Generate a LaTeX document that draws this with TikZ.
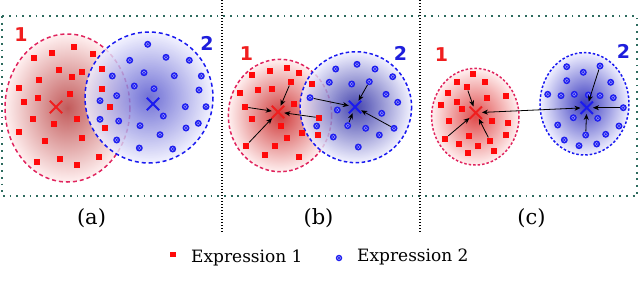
\documentclass[tikz,border=0pt]{standalone}
\usepackage{fontspec}
\setmainfont{DejaVu Serif}
\newfontfamily\numfont{DejaVu Sans}
\usetikzlibrary{shapes.misc,arrows.meta}

\definecolor{frameteal}{HTML}{2E6B5E}
\definecolor{ptred}{HTML}{FF0A0A}
\definecolor{ptblue}{HTML}{1E1EF0}
\definecolor{edgered}{HTML}{E0245E}
\definecolor{edgeblue}{HTML}{1A1AF0}
\definecolor{numred}{HTML}{F01E1E}
\definecolor{numblue}{HTML}{1E1EDC}
\definecolor{redA}{HTML}{C25A5A}
\definecolor{redB}{HTML}{D03A3A}
\definecolor{redC}{HTML}{E04A4A}
\definecolor{blueA}{HTML}{5050CC}
\definecolor{blueB}{HTML}{1C1C9C}
\definecolor{blueC}{HTML}{3A3AC0}

\tikzset{
 redsq/.style={rectangle, fill=ptred, inner sep=0pt, minimum size=6.2pt},
 bluedot/.style={circle, fill=ptblue, inner sep=0pt, minimum size=7pt,
   path picture={\draw[white!55!ptblue, line width=0.45pt] (path picture bounding box.center) circle (1.7pt);}},
 redx/.style={cross out, draw=numred, line width=1.9pt, inner sep=0pt, minimum size=10.5pt},
 bluex/.style={cross out, draw=edgeblue, line width=1.9pt, inner sep=0pt, minimum size=10.5pt},
 pull/.style={-{Stealth[length=6pt,width=5pt,inset=1.8pt]}, line width=0.8pt, draw=black},
 rededge/.style={draw=edgered, line width=1.5pt, dash pattern=on 4pt off 3pt},
 blueedge/.style={draw=edgeblue, line width=1.5pt, dash pattern=on 4pt off 3pt},
 tealframe/.style={draw=frameteal, line width=1.8pt, dash pattern=on 1.8pt off 4.9pt},
 divider/.style={draw=black, line width=1.6pt, dash pattern=on 1.4pt off 1.6pt},
 numlab/.style={font=\numfont\bfseries\fontsize{19}{19}\selectfont, inner sep=0pt},
 panellab/.style={font=\fontsize{21}{21}\selectfont, inner sep=0pt},
 legtext/.style={font=\fontsize{17}{17}\selectfont, inner sep=0pt, anchor=base west},
}

\begin{document}
\begin{tikzpicture}[x=1pt,y=-1pt]
\useasboundingbox (0,0) rectangle (640,298);

% ---------- panel frames ----------
\draw[tealframe] (2,16) rectangle (637,196);
\draw[divider] (222,0) -- (222,232);
\draw[divider] (420,0) -- (420,233);

% ---------- panel (a) ----------
\shade[inner color=redA, outer color=red!6] (67.5,108) ellipse (62.5 and 74);
\draw[rededge] (67.5,108) ellipse (62.5 and 74);
\shade[inner color=blueA, outer color=blue!6, fill opacity=0.82] (149,97.5) ellipse (64 and 65.5);
\draw[blueedge] (149,97.5) ellipse (64 and 65.5);

\foreach \px/\py [count=\i] in {74/46.7, 52.3/53.3, 34/57.7, 93.3/54, 59.3/70, 81.7/71.7, 72.3/77.3, 38.7/80, 101.7/69, 19/88.3, 38.3/98.3, 70/94, 102.3/89.3, 24/102.3, 110.3/107.3, 32.7/119.3, 54/123.7, 76.7/119.3, 105/127.7, 19/132.3, 45/141, 81.7/137.7, 60/159.3, 99.3/156.7, 36.7/162, 77.3/165}
  \node[redsq] (ra\i) at (\px,\py) {};
\foreach \px/\py [count=\i] in {147.7/44.3, 129.7/60.3, 166/57.3, 189.3/60.3, 144/72.7, 174.3/75.7, 201.3/76, 112.3/76, 134.3/86, 154/88.7, 199/90, 116.7/95.7, 100/100.7, 185.3/106.7, 206/106.7, 163.3/116, 100/119.3, 118.7/121, 140/125.7, 198.3/123.3, 186/128, 160/134.7, 116.7/140, 139.3/148, 172.7/149}
  \node[bluedot] (ba\i) at (\px,\py) {};

\node[redx] (xra) at (56,107) {};
\node[bluex] (xba) at (153,104) {};
\node[numlab, text=numred] (na1) at (21,35) {1};
\node[numlab, text=numblue] (na2) at (207,43) {2};

% ---------- panel (b) ----------
\shade[inner color=redB, outer color=red!6] (280,115.5) ellipse (51.7 and 56.2);
\draw[rededge, dash pattern=on 3.5pt off 2.5pt] (280,115.5) ellipse (51.7 and 56.2);
\shade[inner color=blueB, outer color=blue!6, fill opacity=0.82] (355.8,107.2) ellipse (55.8 and 55.5);
\draw[blueedge, dash pattern=on 3.5pt off 2.5pt] (355.8,107.2) ellipse (55.8 and 55.5);

\foreach \px/\py [count=\i] in {270/70.7, 287.3/68.3, 299.3/72.7, 251.7/75, 290.7/82.3, 311.7/84, 258.3/90, 272.3/89.3, 240.3/93.3, 294.3/104.3, 245/107, 251.7/119, 280.7/125.7, 319/117.7, 302.3/132.7, 318.3/135, 287.3/138.3, 246/145.7, 275/145.7, 265/154.7, 299/157}
  \node[redsq] (rb\i) at (\px,\py) {};
\foreach \px/\py [count=\i] in {335.7/69, 357/64.3, 375/69, 392.7/76.7, 329.3/82.3, 351.7/84, 369.3/81.7, 386/94.3, 397.7/102.3, 310/97.7, 337.3/110, 381.7/113.3, 316.7/126, 347.7/125.7, 365.7/128.3, 379.3/135, 394/128.3, 333.3/137, 358.3/147}
  \node[bluedot] (bb\i) at (\px,\py) {};

\node[redx] (xrb) at (278,112) {};
\node[bluex] (xbb) at (355,107) {};
\foreach \k in {11,5,14,18} \draw[pull] (rb\k) -- (xrb);
\foreach \k in {10,7,14,17} \draw[pull] (bb\k) -- (xbb);
\node[numlab, text=numred] (nb1) at (246.5,53.5) {1};
\node[numlab, text=numblue] (nb2) at (400.5,53) {2};

% ---------- panel (c) ----------
\shade[inner color=redC, outer color=red!6] (475.3,116.7) ellipse (43.7 and 48.3);
\draw[rededge, dash pattern=on 2.5pt off 2pt] (475.3,116.7) ellipse (43.7 and 48.3);
\shade[inner color=blueC, outer color=blue!6] (584.5,103.8) ellipse (44.5 and 51.2);
\draw[blueedge, dash pattern=on 2.5pt off 2pt] (584.5,103.8) ellipse (44.5 and 51.2);

\foreach \px/\py [count=\i] in {473.3/74, 456.7/82.3, 485/82.3, 447.7/92.7, 466.7/87.3, 505.7/95.7, 441/105, 456.7/101.7, 461.7/109.3, 487.3/98.3, 449/120.7, 491.7/120.7, 508.3/123.3, 505.7/135, 445/138.7, 469/136, 490/140.7, 459.3/144.3, 477.7/146, 494.3/151, 467.7/153.3}
  \node[redsq] (rc\i) at (\px,\py) {};
\foreach \px/\py [count=\i] in {566.7/66.7, 583.3/72.3, 600/66, 566.7/80.7, 610.7/82.3, 547.7/94.3, 561/95.7, 574.3/94.3, 588.3/95, 600/95.7, 613.3/97.7, 573.3/117.7, 597.7/118.3, 557.7/125, 619/126, 623.3/107.7, 585.7/135, 605.7/134.3, 564.3/140, 579/145.7, 596.7/144}
  \node[bluedot] (bc\i) at (\px,\py) {};

\node[redx] (xrc) at (475.7,112.7) {};
\node[bluex] (xbc) at (586.7,107.7) {};
\foreach \k in {5,15,17} \draw[pull] (rc\k) -- (xrc);
\foreach \k in {3,16,17} \draw[pull] (bc\k) -- (xbc);
\draw[pull, {Stealth[length=6pt,width=5pt,inset=1.8pt]}-{Stealth[length=6pt,width=5pt,inset=1.8pt]}] (xrc) -- (xbc);
\node[numlab, text=numred] (nc1) at (441.5,55) {1};
\node[numlab, text=numblue] (nc2) at (623.5,51) {2};

% ---------- panel labels ----------
\node[panellab] (la) at (91.5,218) {(a)};
\node[panellab] (lb) at (318.5,218) {(b)};
\node[panellab] (lc) at (531.5,218) {(c)};

% ---------- legend ----------
\node[redsq, minimum size=5.5pt] (legr) at (173,254.5) {};
\node[legtext] (legrt) at (191,262) {Expression 1};
\node[bluedot, minimum size=6.5pt] (legb) at (339,258) {};
\node[legtext] (legbt) at (357,261.5) {Expression 2};
\end{tikzpicture}
\end{document}
